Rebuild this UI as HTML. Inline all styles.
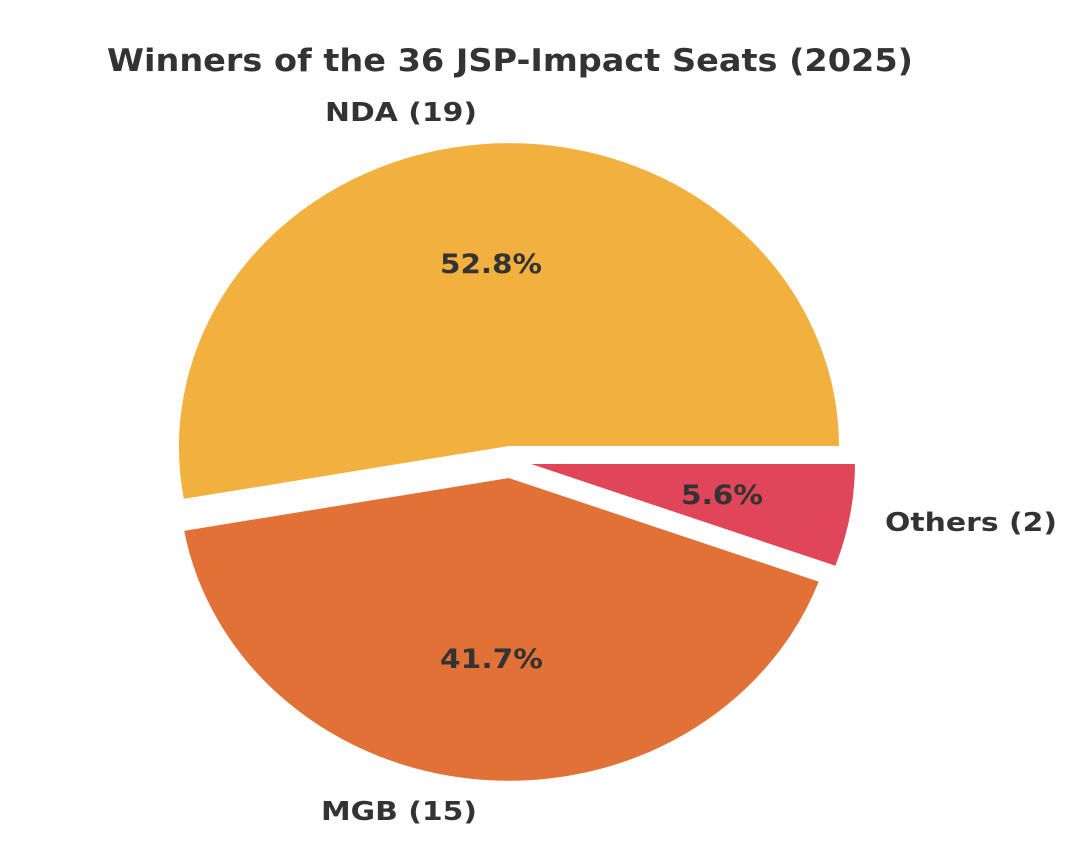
<!DOCTYPE html>
<html><head><meta charset="utf-8"><style>
html,body{margin:0;padding:0;background:#fff;}
svg{display:block;}
text{font-family:"DejaVu Sans","Liberation Sans",sans-serif;font-weight:bold;fill:#333;}
</style></head><body>
<svg width="1068" height="854" viewBox="0 0 1068 854" xmlns="http://www.w3.org/2000/svg">
<rect width="1068" height="854" fill="#fff"/>
<text x="107" y="71" font-size="31" textLength="806" lengthAdjust="spacingAndGlyphs">Winners of the 36 JSP-Impact Seats (2025)</text>
<path d="M509,447 L840,447 A331,305 0 1,0 183,500 Z" fill="#F2B03F" stroke="#fff" stroke-width="2"/>
<path d="M509,477 L183,530 A331,305 0 0,0 820,581 Z" fill="#E27137" stroke="#fff" stroke-width="2"/>
<path d="M525,463 L836,567 A331,305 0 0,0 856,463 Z" fill="#E0455A" stroke="#fff" stroke-width="2"/>
<text x="325" y="121" font-size="26" textLength="152" lengthAdjust="spacingAndGlyphs">NDA (19)</text>
<text x="321" y="820" font-size="26" textLength="156" lengthAdjust="spacingAndGlyphs">MGB (15)</text>
<text x="885" y="531" font-size="26" textLength="172" lengthAdjust="spacingAndGlyphs">Others (2)</text>
<text x="440" y="273" font-size="27" textLength="102" lengthAdjust="spacingAndGlyphs">52.8%</text>
<text x="440" y="668" font-size="27" textLength="103" lengthAdjust="spacingAndGlyphs">41.7%</text>
<text x="681" y="504" font-size="27" textLength="82" lengthAdjust="spacingAndGlyphs">5.6%</text>
</svg>
</body></html>
